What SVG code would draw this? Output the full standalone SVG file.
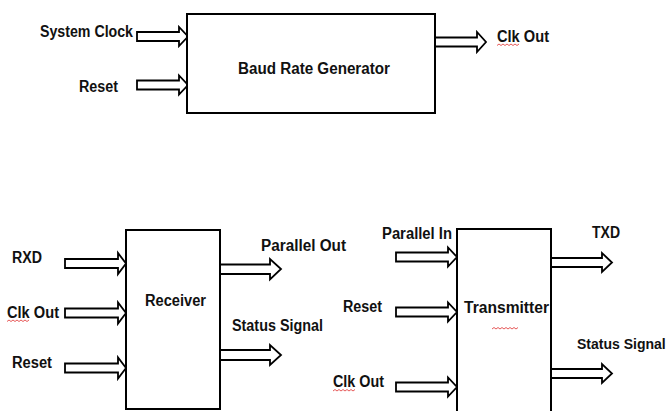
<svg xmlns="http://www.w3.org/2000/svg" width="670" height="411" viewBox="0 0 670 411">
<style>
.box{fill:#fff;stroke:#000;stroke-width:2}
.arr{fill:#fff;stroke:#000;stroke-width:1.8;stroke-linejoin:miter}
text{font-family:"Liberation Sans",Arial,sans-serif;font-weight:bold;font-size:16px;fill:#111}
.sq{fill:none;stroke:#e03030;stroke-width:0.8}
</style>
<rect width="670" height="411" fill="#fff"/>
<g id="connectors">
<path class="arr" d="M137,32 H179 V27 L188,36.5 L179,46 V41 H137 Z"/>
<path class="arr" d="M137,80.5 H179 V75.5 L188,85 L179,94.5 V89.5 H137 Z"/>
<path class="arr" d="M435,37.5 H477 V32 L486,42 L477,52 V46.5 H435"/>
<path class="arr" d="M65,259 H118 V253 L126,263.5 L118,274 V268 H65 Z"/>
<path class="arr" d="M65,308.5 H118 V302.5 L126,313 L118,323.5 V317.5 H65 Z"/>
<path class="arr" d="M65,363.5 H118 V357.5 L126,368 L118,378.5 V372.5 H65 Z"/>
<path class="arr" d="M220,264.5 H270 V259 L281,269 L270,279.5 V274 H220"/>
<path class="arr" d="M220,350 H270 V345 L281,355 L270,365 V360 H220"/>
<path class="arr" d="M396,252.5 H448 V247.5 L457,257 L448,266.5 V261.5 H396 Z"/>
<path class="arr" d="M396,307.5 H448 V302.5 L457,312 L448,321.5 V316.5 H396 Z"/>
<path class="arr" d="M396,382.5 H448 V377.5 L457,387 L448,396.5 V391.5 H396 Z"/>
<path class="arr" d="M551,258 H602 V253 L612,262.5 L602,272 V267 H551"/>
<path class="arr" d="M551,369 H602 V364 L612,373.5 L602,383 V378 H551"/>
</g>
<g id="baud">
<rect class="box" x="187" y="14" width="248" height="99"/>
<text x="238" y="74" textLength="152" lengthAdjust="spacingAndGlyphs">Baud Rate Generator</text>
</g>
<g id="receiver">
<rect class="box" x="126" y="230" width="94" height="179"/>
<text x="145" y="306" textLength="61" lengthAdjust="spacingAndGlyphs">Receiver</text>
</g>
<g id="transmitter">
<rect class="box" x="457" y="229" width="94" height="190"/>
<text x="464" y="313" textLength="85" lengthAdjust="spacingAndGlyphs">Transmitter</text>
<polyline class="sq" points="492,329 494,327.5 496,329 498,327.5 500,329 502,327.5 504,329 506,327.5 508,329 510,327.5 512,329 514,327.5 516,329 518,327.5"/>
</g>
<g id="labels">
<text x="40" y="37" textLength="93" lengthAdjust="spacingAndGlyphs">System Clock</text>
<text x="79" y="92" textLength="39" lengthAdjust="spacingAndGlyphs">Reset</text>
<text x="497" y="42" textLength="52" lengthAdjust="spacingAndGlyphs">Clk Out</text>
<polyline class="sq" points="497,45.5 499,44 501,45.5 503,44 505,45.5 507,44 509,45.5 511,44 513,45.5 515,44 517,45.5 519,44"/>
<text x="12" y="263" textLength="30" lengthAdjust="spacingAndGlyphs">RXD</text>
<text x="7" y="318" textLength="52" lengthAdjust="spacingAndGlyphs">Clk Out</text>
<polyline class="sq" points="7,321.5 9,320 11,321.5 13,320 15,321.5 17,320 19,321.5 21,320 23,321.5 25,320 27,321.5 29,320"/>
<text x="12" y="368" textLength="40" lengthAdjust="spacingAndGlyphs">Reset</text>
<text x="261" y="251" textLength="85" lengthAdjust="spacingAndGlyphs">Parallel Out</text>
<text x="232" y="331" textLength="91" lengthAdjust="spacingAndGlyphs">Status Signal</text>
<text x="382" y="239" textLength="70" lengthAdjust="spacingAndGlyphs">Parallel In</text>
<text x="343" y="312" textLength="39" lengthAdjust="spacingAndGlyphs">Reset</text>
<text x="333" y="387" textLength="51" lengthAdjust="spacingAndGlyphs">Clk Out</text>
<polyline class="sq" points="333,391 335,389.5 337,391 339,389.5 341,391 343,389.5 345,391 347,389.5 349,391 351,389.5 353,391 355,389.5"/>
<text x="592" y="238" textLength="28" lengthAdjust="spacingAndGlyphs">TXD</text>
<text x="577" y="349" style="font-size:14px">Status Signal</text>
</g>
</svg>
